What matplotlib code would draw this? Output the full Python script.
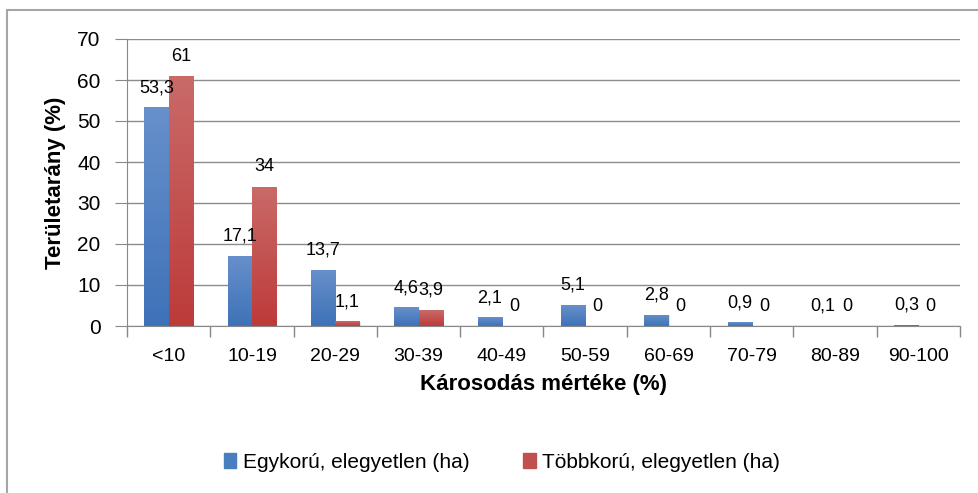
import numpy as np
import matplotlib.pyplot as plt
from matplotlib.patches import Rectangle
from matplotlib.colors import LinearSegmentedColormap

categories = ['<10', '10-19', '20-29', '30-39', '40-49', '50-59', '60-69', '70-79', '80-89', '90-100']
egykoru = [53.3, 17.1, 13.7, 4.6, 2.1, 5.1, 2.8, 0.9, 0.1, 0.3]
tobbkoru = [61, 34, 1.1, 3.9, 0, 0, 0, 0, 0, 0]
series_names = ['Egykorú, elegyetlen (ha)', 'Többkorú, elegyetlen (ha)']

plt.rcParams['font.family'] = ['Liberation Sans', 'DejaVu Sans']


def fmt(v):
    return ('%g' % v).replace('.', ',')


def gradient_bars(ax, bars, top_col, bot_col):
    grad = np.linspace(0, 1, 64).reshape(-1, 1)
    cmap = LinearSegmentedColormap.from_list('g', [bot_col, top_col])
    for b in bars:
        x, y = b.get_x(), b.get_y()
        w, h = b.get_width(), b.get_height()
        if h <= 0:
            continue
        # soft shadow to the right
        ax.add_patch(Rectangle((x + 0.015, y), w, max(h - 0.2, 0), color='#000000',
                               alpha=0.10, zorder=1.5, lw=0))
        im = ax.imshow(grad, extent=(x, x + w, y, y + h), origin='lower',
                       cmap=cmap, aspect='auto', zorder=2.5)
        im.set_clip_path(b)


fig = plt.figure(figsize=(9.79, 4.93), dpi=100)
ax = fig.add_axes([127 / 979, 1 - 326 / 493, (960 - 127) / 979, (326 - 39) / 493])

x = np.arange(len(categories))
w = 0.29
b1 = ax.bar(x - w / 2, egykoru, w, color='#4A7EBF', zorder=2, lw=0)
b2 = ax.bar(x + w / 2, tobbkoru, w, color='#C0504D', zorder=2, lw=0)
gradient_bars(ax, b1, '#6790CB', '#3E72B8')
gradient_bars(ax, b2, '#C96A69', '#BD3B39')

for xs, vals in [(x - w / 2, egykoru), (x + w / 2, tobbkoru)]:
    for xi, v in zip(xs, vals):
        ax.annotate(fmt(v), (xi, v), xytext=(0, 8), textcoords='offset points',
                    ha='center', va='bottom', fontsize=13)

ax.set_xlim(-0.5, len(categories) - 0.5)
ax.set_ylim(0, 70)
ax.set_yticks(range(0, 71, 10))
ax.set_xticks(x)
ax.set_xticklabels(categories)
ax.set_xticks(np.arange(-0.5, len(categories), 1), minor=True)
ax.tick_params(axis='x', which='major', length=0, labelsize=14, pad=16)
ax.tick_params(axis='x', which='minor', length=8, color='#888888', width=1)
ax.tick_params(axis='y', length=9, color='#888888', labelsize=15, pad=10)
ax.yaxis.grid(True, color='#8c8c8c', lw=1)
ax.set_axisbelow(True)
for s in ['top', 'right']:
    ax.spines[s].set_visible(False)
for s in ['left', 'bottom']:
    ax.spines[s].set_color('#888888')

ax.set_xlabel('Károsodás mértéke (%)', fontsize=16, fontweight='bold', labelpad=6)
ax.set_ylabel('Területarány (%)', fontsize=16, fontweight='bold', labelpad=8)

handles = [Rectangle((0, 0), 1, 1, color='#4A7EBF'), Rectangle((0, 0), 1, 1, color='#C0504D')]
fig.legend(handles, series_names, loc='center', bbox_to_anchor=(502 / 979, 1 - 462 / 493),
           ncol=2, frameon=False, fontsize=15, handlelength=0.6, handleheight=0.7,
           handletextpad=0.3, columnspacing=2.6)

fig.patches.append(Rectangle((7 / 979, -0.1), 1.1, 1 - 10 / 493 + 0.1, transform=fig.transFigure,
                             fill=False, edgecolor='#a6a6a6', lw=1.5, zorder=0))

fig.savefig('out.png', dpi=100)
